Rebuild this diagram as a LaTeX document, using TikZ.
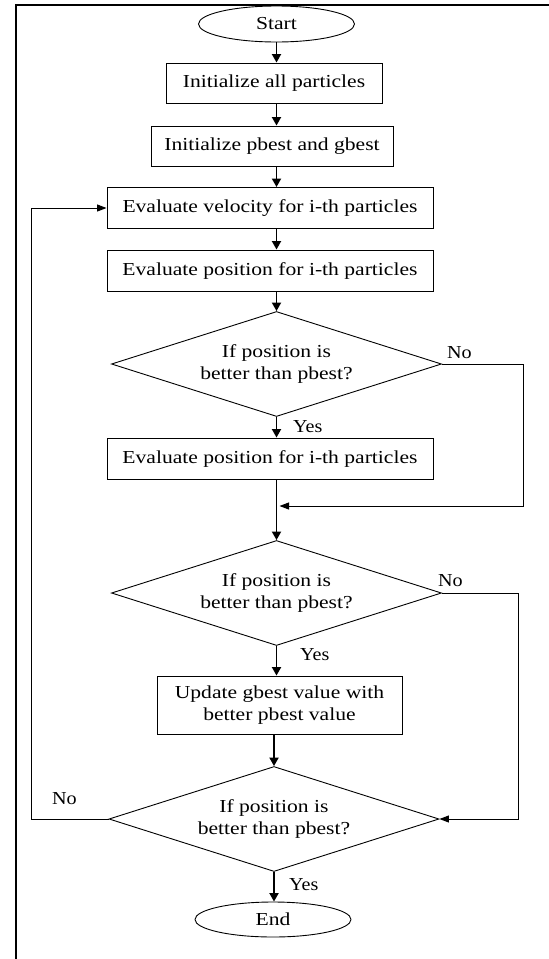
\documentclass[tikz,border=0pt]{standalone}
\usepackage{fontspec}
\setmainfont{Liberation Serif}[FakeStretch=1.18]
\newfontfamily\lblfont{Liberation Serif}[FakeStretch=1.1]
\usetikzlibrary{shapes.geometric,arrows.meta}
\begin{document}
\begin{tikzpicture}[x=1pt,y=-1pt,
  every node/.style={font=\fontsize{18.3}{22}\selectfont, inner sep=0pt},
  boxnode/.style={draw, line width=0.9pt, rectangle, align=center},
  termnode/.style={draw, line width=0.9pt, ellipse, minimum width=156pt, minimum height=36pt},
  decnode/.style={draw, line width=0.9pt, diamond, aspect=3.14, minimum width=330pt, minimum height=105pt, align=center},
  flowarrow/.style={line width=1.9pt, -{Triangle[length=8.5pt,width=9pt]}},
  thinarrow/.style={line width=1pt, -{Triangle[length=9.5pt,width=7pt]}},
  lbl/.style={font=\lblfont\fontsize{18.3}{22}\selectfont, anchor=west}
]
\useasboundingbox (0,0) rectangle (549,959);
\draw[line width=2pt] (15.5,959) -- (15.5,4.5) -- (549,4.5);

\node[termnode] (start) at (276.5,24) {Start};
\node[boxnode, minimum width=216pt, minimum height=40pt] (b1) at (274,83) {Initialize all particles};
\node[boxnode, minimum width=242pt, minimum height=40pt] (b2) at (272,146) {Initialize pbest and gbest};
\node[boxnode, minimum width=326pt, minimum height=41pt] (b3) at (270,208) {Evaluate velocity for i-th particles};
\node[boxnode, minimum width=326pt, minimum height=41pt] (b4) at (270,270.5) {Evaluate position for i-th particles};
\node[decnode] (d1) at (276.5,364) {If position is\\better than pbest?};
\node[boxnode, minimum width=326pt, minimum height=41pt] (b5) at (270,458.5) {Evaluate position for i-th particles};
\node[decnode] (d2) at (276.5,593) {If position is\\better than pbest?};
\node[boxnode, minimum width=245pt, minimum height=58pt] (b6) at (279.5,705) {Update gbest value with\\better pbest value};
\node[decnode] (d3) at (274,819) {If position is\\better than pbest?};
\node[termnode, minimum height=35pt] (end) at (273,919.5) {End};

\coordinate (ax) at (276.5,0);
\draw[flowarrow] (start.south) -- (b1.north -| ax);
\draw[flowarrow] (b1.south -| ax) -- (b2.north -| ax);
\draw[flowarrow] (b2.south -| ax) -- (b3.north -| ax);
\draw[flowarrow] (b3.south -| ax) -- (b4.north -| ax);
\draw[flowarrow] (b4.south -| ax) -- (d1.north);
\draw[flowarrow] (d1.south) -- (b5.north -| ax);
\draw[flowarrow] (b5.south -| ax) -- (d2.north);
\draw[flowarrow] (d2.south) -- (b6.north -| ax);
\draw[flowarrow] (b6.south -| d3.north) -- (d3.north);
\draw[flowarrow] (d3.south) -- (end.north -| d3.south);

\coordinate (r1) at (523,506);
\coordinate (m1) at (279.5,506);
\draw[thinarrow] (d1.east) -| (r1) -- (m1);
\coordinate (r2) at (518,0);
\draw[thinarrow] (d2.east) -| (r2 |- d3.east) -- (d3.east);
\coordinate (l3) at (31,0);
\draw[thinarrow] (d3.west) -| (l3 |- b3.west) -- (b3.west);

\node[lbl] (no1) at (447,353) {No};
\node[lbl] (yes1) at (293,427) {Yes};
\node[lbl] (no2) at (438,581) {No};
\node[lbl] (yes2) at (300,655) {Yes};
\node[lbl] (no3) at (52,799) {No};
\node[lbl] (yes3) at (289,885) {Yes};
\end{tikzpicture}
\end{document}
